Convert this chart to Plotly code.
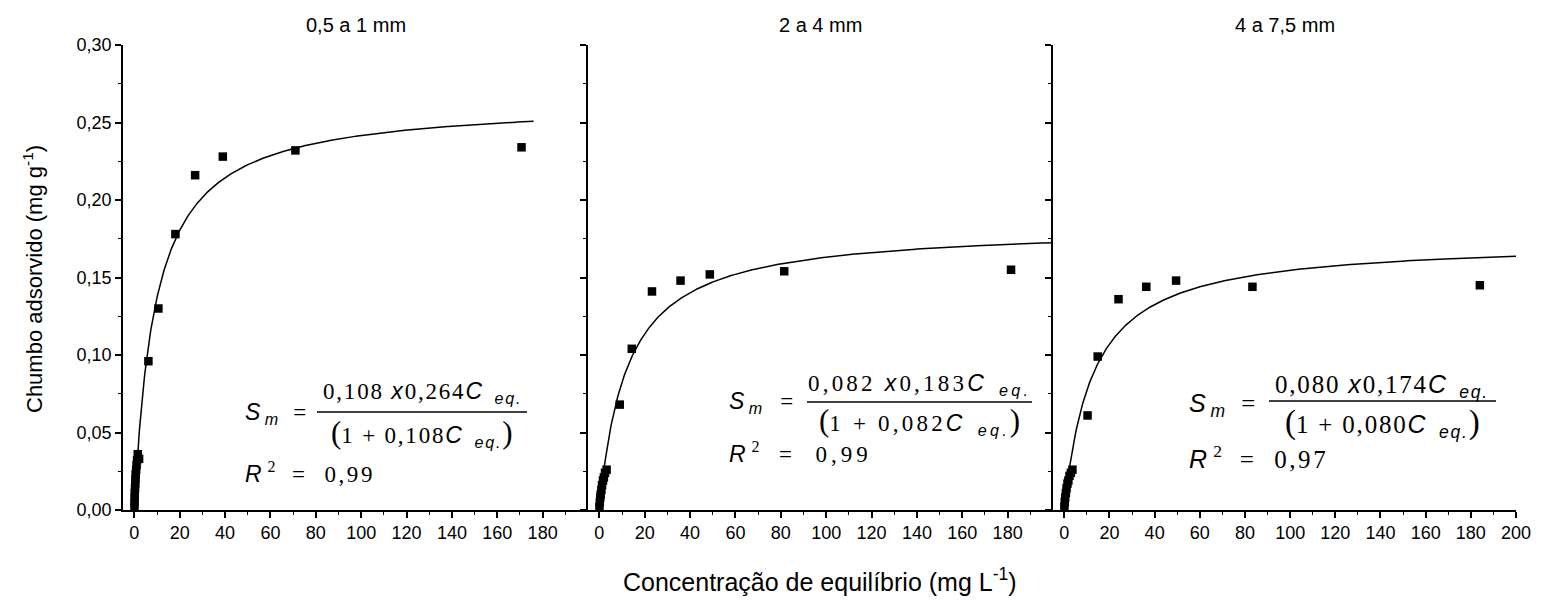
import numpy as np
import plotly.graph_objects as go

# ---------------- data ----------------
panel_titles = ["0,5 a 1 mm", "2 a 4 mm", "4 a 7,5 mm"]

# Langmuir parameters printed on the chart (b, Sm max)
b_vals = [0.108, 0.082, 0.080]
qm_vals = [0.264, 0.183, 0.174]
curve_end = [176, 200, 200]
r2_labels = ["0,99", "0,99", "0,97"]
b_txt = ["0,108", "0,082", "0,080"]
q_txt = ["0,264", "0,183", "0,174"]

ceq_1 = [0.05, 0.1, 0.15, 0.2, 0.3, 0.4, 0.5, 0.6, 0.8, 1.0, 1.2, 1.5, 2.1,
         6.2, 10.6, 18.1, 26.8, 39.0, 71.0, 170.7]
sorb_1 = [0.002, 0.005, 0.008, 0.011, 0.014, 0.017, 0.020, 0.023, 0.026, 0.029, 0.032, 0.036, 0.033,
          0.096, 0.130, 0.178, 0.216, 0.228, 0.232, 0.234]

ceq_2 = [0.05, 0.2, 0.4, 0.6, 0.9, 1.2, 1.6, 2.0, 2.5, 3.2,
         9.0, 14.3, 23.2, 35.8, 48.7, 81.5, 181.5]
sorb_2 = [0.002, 0.005, 0.008, 0.010, 0.013, 0.016, 0.019, 0.021, 0.024, 0.026,
          0.068, 0.104, 0.141, 0.148, 0.152, 0.154, 0.155]

ceq_3 = [0.05, 0.2, 0.4, 0.7, 1.0, 1.4, 1.8, 2.3, 2.9, 3.6,
         10.3, 14.8, 24.0, 36.3, 49.5, 83.3, 184.0]
sorb_3 = [0.002, 0.005, 0.008, 0.011, 0.014, 0.017, 0.019, 0.022, 0.024, 0.026,
          0.061, 0.099, 0.136, 0.144, 0.148, 0.144, 0.145]

x_ticks_12 = [0, 20, 40, 60, 80, 100, 120, 140, 160, 180]
x_ticks_3 = [0, 20, 40, 60, 80, 100, 120, 140, 160, 180, 200]
x_minor = [10, 30, 50, 70, 90, 110, 130, 150, 170, 190]
y_ticks = [0.0, 0.05, 0.10, 0.15, 0.20, 0.25, 0.30]
y_minor = [0.025, 0.075, 0.125, 0.175, 0.225, 0.275]

datasets = [(ceq_1, sorb_1), (ceq_2, sorb_2), (ceq_3, sorb_3)]

# ---------------- layout geometry ----------------
W, H = 1544, 610
ML, MR, MT, MB = 123, 28, 45, 100
PW = W - ML - MR
PH = H - MT - MB


def px(x):
    return (x - ML) / PW


def py(y):
    return (H - MB - y) / PH


domains = [[0, 465 / PW], [465 / PW, 930 / PW], [930 / PW, 1]]

SANS = "Arial, Liberation Sans, sans-serif"
SERIF = "Times New Roman, Liberation Serif, serif"

fig = go.Figure()

for i, (cx, cy) in enumerate(datasets):
    n = "" if i == 0 else str(i + 1)
    b, qm = b_vals[i], qm_vals[i]
    cgrid = np.linspace(0, curve_end[i], 600)
    fig.add_trace(go.Scatter(
        x=cgrid, y=b * qm * cgrid / (1 + b * cgrid), mode="lines",
        line=dict(color="black", width=1.5), xaxis="x" + n, yaxis="y" + n,
        showlegend=False, hoverinfo="skip"))
    fig.add_trace(go.Scatter(
        x=cx, y=cy, mode="markers",
        marker=dict(symbol="square", size=8.5, color="black"),
        xaxis="x" + n, yaxis="y" + n, showlegend=False, cliponaxis=False))

axis_common = dict(showline=True, linecolor="black", linewidth=1.5, zeroline=False,
                   showgrid=False, tickcolor="black", tickwidth=1.5,
                   tickfont=dict(family=SANS, size=18, color="black"))

for i in range(3):
    n = "" if i == 0 else str(i + 1)
    xt = x_ticks_3 if i == 2 else x_ticks_12
    fig.layout["xaxis" + n] = dict(
        axis_common, domain=domains[i], anchor="y" + n, range=[-5, 200],
        tickmode="array", tickvals=xt, ticks="outside", ticklen=6,
        minor=dict(tickmode="array", tickvals=x_minor, ticks="outside", ticklen=3.5,
                   tickwidth=1.2, tickcolor="black"))
    fig.layout["yaxis" + n] = dict(
        axis_common, domain=[0, 1], anchor="x" + n, range=[0, 0.3],
        tickmode="array", tickvals=y_ticks, tickformat=".2f", ticks="outside", ticklen=6,
        showticklabels=(i == 0),
        minor=dict(tickmode="array", tickvals=y_minor, ticks="outside", ticklen=3.5,
                   tickwidth=1.2, tickcolor="black"))
    # mirrored top / right axes with inward ticks
    m = str(i + 4)
    fig.layout["xaxis" + m] = dict(
        axis_common, overlaying="x" + n, side="top", anchor="y" + n, range=[-5, 200],
        tickmode="array", tickvals=xt, ticks="inside", ticklen=5, showticklabels=False,
        minor=dict(tickmode="array", tickvals=x_minor, ticks="inside", ticklen=3.5,
                   tickwidth=1.2, tickcolor="black"))
    fig.layout["yaxis" + m] = dict(
        axis_common, overlaying="y" + n, side="right", anchor="x" + n, range=[0, 0.3],
        tickmode="array", tickvals=y_ticks, ticks="inside", ticklen=6, showticklabels=False,
        minor=dict(tickmode="array", tickvals=y_minor, ticks="inside", ticklen=3.5,
                   tickwidth=1.2, tickcolor="black"))

annotations = []
shapes = []

# panel titles
for i, t in enumerate(panel_titles):
    annotations.append(dict(text=t, x=(domains[i][0] + domains[i][1]) / 2, y=py(25),
                            xref="paper", yref="paper", showarrow=False,
                            xanchor="center", yanchor="middle",
                            font=dict(family=SANS, size=20, color="black")))

# axis titles
annotations.append(dict(text="Chumbo adsorvido (mg g<sup>-1</sup>)", x=px(33), y=py(279),
                        xref="paper", yref="paper", showarrow=False, textangle=-90,
                        xanchor="center", yanchor="middle",
                        font=dict(family=SANS, size=22, color="black")))
annotations.append(dict(text="Concentração de equilíbrio (mg L<sup>-1</sup>)", x=px(820), y=py(580),
                        xref="paper", yref="paper", showarrow=False,
                        xanchor="center", yanchor="middle",
                        font=dict(family=SANS, size=25, color="black")))

# equations
NB = "\u00a0"


def seg(s, italic=False, sp=0.0, size=None):
    st = []
    if italic:
        st.append("font-family:Arial, Liberation Sans, sans-serif;font-style:italic")
    if sp:
        st.append("letter-spacing:%.1fpx" % sp)
    if size:
        st.append("font-size:%dpx" % size)
    return '<span style="' + ";".join(st) + '">' + s + '</span>'


eq_font_size = [23, 23, 25]
eq_spacing = [1.8, 3.2, 1.8]
# pixel positions of equation pieces: (S left x, S y, num center x, num y, bar x0, bar x1, bar y, den y, R y)
eq_pos = [
    (243, 413, 422, 392, 317, 527, 412, 433, 472),
    (727, 402, 919, 384, 807, 1032, 402, 421, 452),
    (1187, 405, 1382, 386, 1269, 1496, 401, 423, 457),
]
for i in range(3):
    sx, sy, nx, ny, bx0, bx1, by, dy, ry = eq_pos[i]
    fs = eq_font_size[i]
    sp = eq_spacing[i]
    efont = dict(family=SERIF, size=fs, color="black")
    sub_eq = '<sub>' + seg(NB + NB + "eq.", italic=True, sp=sp) + '</sub>'
    psize = int(fs * 1.35)
    s_line = (seg("S", italic=True) + '<sub>' + seg(NB + "m", italic=True) + '</sub>' +
              seg(NB + NB + "=", sp=sp))
    num = (seg(b_txt[i] + NB, sp=sp) + seg("x", italic=True, sp=sp) + seg(q_txt[i], sp=sp) +
           seg("C", italic=True) + sub_eq)
    den = (seg("(", size=psize) + seg("1" + NB + "+" + NB + b_txt[i], sp=sp) +
           seg("C", italic=True) + sub_eq + seg(")", size=psize))
    r_line = (seg("R", italic=True) + NB + '<sup>2</sup>' +
              seg(NB + NB + "=" + NB + NB + r2_labels[i], sp=sp + 0.8))
    for txt, xx, yy, anc in [(s_line, sx, sy, "left"), (num, nx, ny, "center"),
                             (den, nx, dy, "center"), (r_line, sx, ry, "left")]:
        annotations.append(dict(text=txt, x=px(xx), y=py(yy), xref="paper", yref="paper",
                                showarrow=False, xanchor=anc, yanchor="middle", font=efont))
    shapes.append(dict(type="line", xref="paper", yref="paper", x0=px(bx0), x1=px(bx1),
                       y0=py(by), y1=py(by), line=dict(color="black", width=1.5)))

fig.update_layout(
    width=W, height=H, margin=dict(l=ML, r=MR, t=MT, b=MB),
    paper_bgcolor="white", plot_bgcolor="white",
    separators=",.", annotations=annotations, shapes=shapes,
    font=dict(family=SANS, color="black"),
)

fig.write_html("out.html")
